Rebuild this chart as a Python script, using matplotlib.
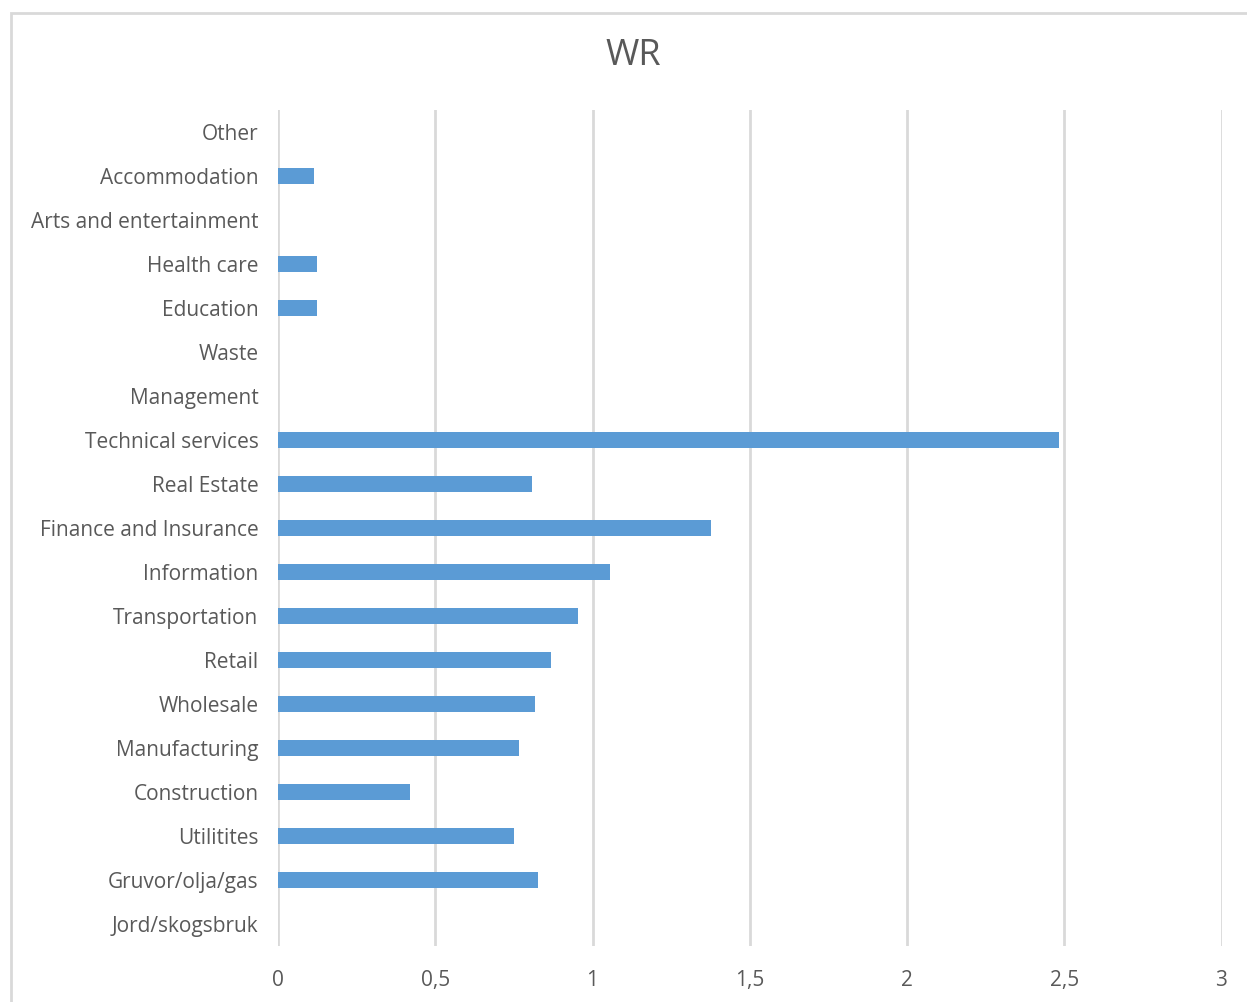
import matplotlib.pyplot as plt
from matplotlib.patches import Rectangle
from matplotlib.ticker import FuncFormatter

# sectors listed bottom to top
sectors = ["Jord/skogsbruk", "Gruvor/olja/gas", "Utilitites", "Construction",
           "Manufacturing", "Wholesale", "Retail", "Transportation",
           "Information", "Finance and Insurance", "Real Estate",
           "Technical services", "Management", "Waste", "Education",
           "Health care", "Arts and entertainment", "Accommodation", "Other"]
wr = [0, 0.827, 0.751, 0.420, 0.767, 0.818, 0.869, 0.954, 1.056, 1.378,
      0.808, 2.482, 0, 0, 0.124, 0.124, 0, 0.115, 0]
xticks = [0, 0.5, 1, 1.5, 2, 2.5, 3]

plt.rcParams['font.family'] = ['Open Sans', 'DejaVu Sans']
txt = '#595959'

fig = plt.figure(figsize=(12.47, 10.02), dpi=100)
fig.patches.append(Rectangle((11 / 1247, -0.01), 1.02, 1 - 13 / 1002 + 0.01,
                             transform=fig.transFigure, fill=False,
                             edgecolor='#D9D9D9', linewidth=2))

ax = fig.add_axes([278 / 1247, 1 - 946 / 1002, (1221.5 - 278) / 1247, 836 / 1002])
ax.barh(range(len(sectors)), wr, height=0.36, color='#5B9BD5', zorder=3)

ax.set_xlim(0, 3)
ax.set_ylim(-0.5, len(sectors) - 0.5)
ax.set_xticks(xticks)
ax.xaxis.set_major_formatter(FuncFormatter(lambda v, p: f"{v:g}".replace('.', ',')))
ax.set_yticks(range(len(sectors)))
ax.set_yticklabels(sectors)
ax.grid(axis='x', color='#D9D9D9', linewidth=2, zorder=0)
for s in ax.spines.values():
    s.set_visible(False)
ax.tick_params(axis='both', length=0, labelsize=15, labelcolor=txt)
ax.tick_params(axis='x', pad=17)
ax.tick_params(axis='y', pad=14)

fig.text(633 / 1247, 1 - 56 / 1002, "WR", ha='center', va='center',
         fontsize=26, color=txt)

fig.savefig("out.png", dpi=100)
